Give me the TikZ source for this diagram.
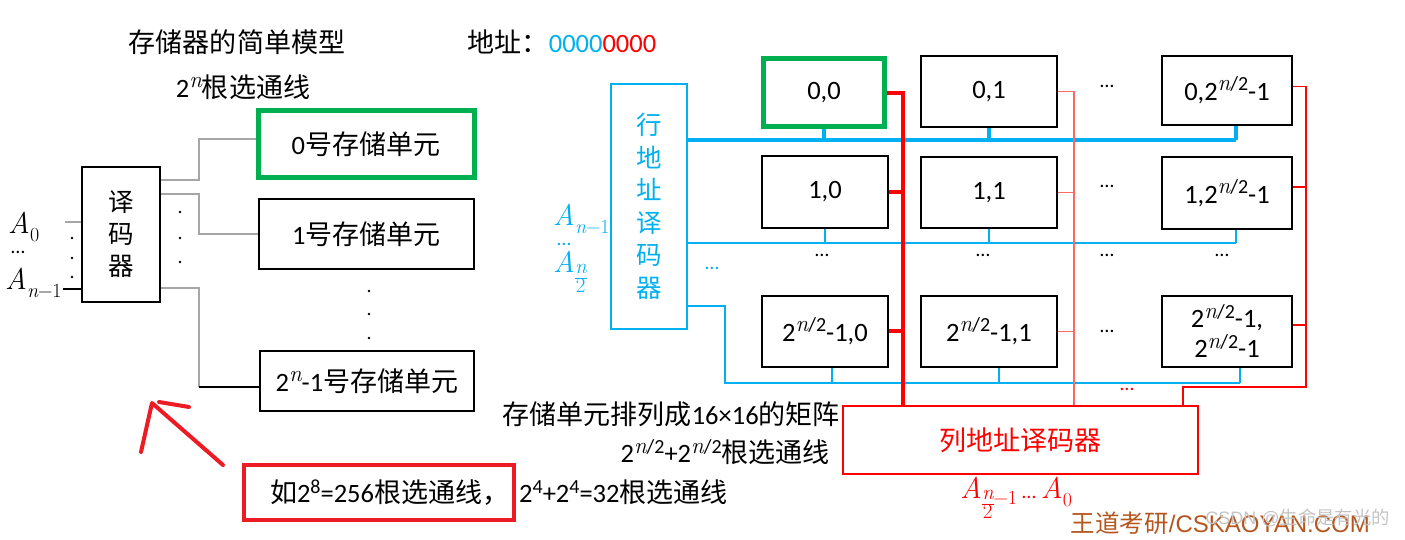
\documentclass[tikz,border=0pt]{standalone}
\usepackage{fontspec}
\setmainfont{Carlito}
\newfontfamily\cjk[Scale=1.02]{Noto Sans CJK SC}
\newfontfamily\arialf{Liberation Sans}
\newfontfamily\lmr{Latin Modern Roman}
\newcommand{\zh}[1]{{\cjk #1}}
\newcommand{\mi}[1]{{\lmr\itshape #1}}
\newcommand{\szmain}{\fontsize{26.5}{32}\selectfont}
\newcommand{\sztitle}{\fontsize{26.5}{32}\selectfont}
\newcommand{\szsmall}{\fontsize{20}{24}\selectfont}
\newcommand{\szmath}{\fontsize{30}{32}\selectfont}
\newcommand{\up}[1]{\raisebox{0.36em}{\fontsize{20}{20}\selectfont #1}}
\newcommand{\nn}{{\fontsize{23}{23}\selectfont\mi{n}}}
\newcommand{\nh}{\nn/2}
\newcommand{\dn}[1]{\raisebox{-0.28em}{\fontsize{20}{20}\selectfont #1}}
\newcommand{\fr}{\raisebox{-0.42em}{\fontsize{21}{21}\selectfont\renewcommand{\arraystretch}{0.75}\setlength{\tabcolsep}{0pt}\begin{tabular}{c}\mi{n}\\\hline{\lmr 2}\end{tabular}}}
\definecolor{cgreen}{HTML}{00B050}
\definecolor{cblue}{HTML}{00B0F0}
\definecolor{cred}{HTML}{FF0000}
\definecolor{cpink}{HTML}{FF6666}
\definecolor{cgray}{HTML}{A6A6A6}
\definecolor{cbox}{HTML}{ED1C24}
\definecolor{cbrown}{HTML}{B4561E}
\definecolor{cwm}{HTML}{C4C4C4}
\begin{document}
\begin{tikzpicture}[x=1pt,y=-1pt,
  txt/.style={inner sep=0pt,font=\szmain},
  mlab/.style={inner sep=0pt,font=\szmath},
  blk/.style={draw,line width=2pt,font=\szmain,align=center},
  greenbox/.style={draw=cgreen,line width=5pt,font=\szmain,align=center},
  cell/.style={draw,line width=2pt,minimum width=126pt,minimum height=71pt,font=\szmain,align=center,inner sep=1pt},
  graywire/.style={draw=cgray,line width=1.5pt},
  wire/.style={draw=black,line width=1.3pt},
  bluethick/.style={draw=cblue,line width=4pt},
  bluethin/.style={draw=cblue,line width=1.2pt},
  redthick/.style={draw=cred,line width=4pt},
  redthin/.style={draw=cred,line width=1.2pt},
  pinkwire/.style={draw=cpink,line width=1.2pt},
  redpen/.style={draw=cbox,line width=4pt,line cap=round,line join=round},
  celldots/.style={inner sep=0pt,font=\szsmall}]
\useasboundingbox (0,0) rectangle (1405,540);

% ---------- left: simple model ----------
\node[txt,font=\sztitle] (title) at (237,42) {\zh{存储器的简单模型}};
\node[txt] (nlines) at (243,87) {2\up{\nn}\zh{根选通线}};
\node[txt] (addr) at (562,42) {\zh{地址：}\textcolor{cblue}{0000}\textcolor{cred}{0000}};

\node[blk,minimum width=78pt,minimum height=135pt,font=\fontsize{25}{32}\selectfont] (dec) at (121,234.5) {\zh{译}\\\zh{码}\\\zh{器}};

\coordinate (inA) at (65,222);
\coordinate (inB) at (63,289);
\draw[graywire] (inA) -- (inA -| dec.west);
\draw[wire] (inB) -- (inB -| dec.west);
\node[mlab,anchor=west] (a0) at (8,227) {\mi{A}\dn{\lmr 0}};
\node[celldots,anchor=west] (adots) at (11,252) {…};
\node[mlab,anchor=west] (an1) at (5,283) {\mi{A}\dn{\mi{n}\lmr −1}};
\foreach \yy in {238,258,277} \fill (72,\yy) circle (1.4);

\node[greenbox,minimum width=216pt,minimum height=67pt] (m0) at (366,144.5) {0\zh{号存储单元}};
\node[blk,minimum width=215pt,minimum height=70pt] (m1) at (366.5,234) {1\zh{号存储单元}};
\node[blk,minimum width=214pt,minimum height=60pt] (mN) at (367,381) {2\up{\nn}-1\zh{号存储单元}};

\coordinate (o0a) at (199,180);
\coordinate (o0b) at (199,139);
\coordinate (o1a) at (199,194);
\coordinate (o1b) at (199,234);
\coordinate (oNa) at (199,288);
\coordinate (oNb) at (199,387);
\draw[graywire] (dec.east |- o0a) -- (o0a) -- (o0b) -- (o0b -| m0.west);
\draw[graywire] (dec.east |- o1a) -- (o1a) -- (o1b) -- (o1b -| m1.west);
\draw[graywire] (dec.east |- oNa) -- (oNa) -- (oNb);
\draw[wire] (oNb) -- (oNb -| mN.west);
\foreach \yy in {212,238,262} \fill (180,\yy) circle (1.4);
\foreach \yy in {291,314,338} \fill (369,\yy) circle (1.4);

% red hand-drawn arrow
\draw[redpen] (223,465) -- (152,403) -- (141,452);
\draw[redpen] (159,402) -- (189,407);

% example box
\node[draw=cbox,line width=4pt,minimum height=55pt,text width=262pt,inner xsep=4pt,align=left,font=\szmain,anchor=west] (ex) at (242,492.5)
  {\hspace*{22pt}\zh{如}2\up{8}=256\zh{根选通线，}};
\node[txt,anchor=west] (ex2) at (ex.east) {\hspace*{3pt}2\up{4}+2\up{4}=32\zh{根选通线}};

\node[txt,anchor=east] (mat) at (840,414) {\zh{存储单元排列成}16×16\zh{的矩阵}};
\node[txt,anchor=east] (sel2) at (830,452) {2\up{\nh}+2\up{\nh}\zh{根选通线}};

% ---------- right: matrix ----------
\node[draw=cblue,line width=2pt,minimum width=76pt,minimum height=244pt,align=center,text=cblue,font=\fontsize{25}{32.5}\selectfont] (rowdec) at (649,206.5)
  {\zh{行}\\\zh{地}\\\zh{址}\\\zh{译}\\\zh{码}\\\zh{器}};
\node[mlab,text=cblue,anchor=west] (rl1) at (553,219) {\mi{A}\dn{\mi{n}\lmr −1}};
\node[celldots,text=cblue,anchor=west] (rl2) at (557,244) {…};
\node[mlab,text=cblue,anchor=west] (rl3) at (553,274) {\mi{A}\fr};
\node[celldots,text=cblue] (rdotsl) at (712,268) {…};

\node[cell,draw=cgreen,line width=5pt,minimum width=121pt,minimum height=68pt] (c00) at (824,93) {0,0};
\node[cell,minimum width=136pt] (c01) at (989,91.5) {0,1};
\node[cell,minimum width=130pt,minimum height=69pt] (c03) at (1227,90.5) {0,2\up{\nh}-1};
\node[cell] (c10) at (825,192) {1,0};
\node[cell,minimum width=136pt] (c11) at (989,192.5) {1,1};
\node[cell,minimum width=130pt] (c13) at (1227,193) {1,2\up{\nh}-1};
\node[cell] (c20) at (825,331) {2\up{\nh}-1,0};
\node[cell,minimum width=136pt] (c21) at (989,331.5) {2\up{\nh}-1,1};
\node[cell,minimum width=130pt,font=\fontsize{26.5}{30}\selectfont] (c23) at (1227,331) {2\up{\nh}-1,\\2\up{\nh}-1};

\node[celldots] (d0) at (1107,86) {…};
\node[celldots] (d1) at (1107,186) {…};
\node[celldots] (d2) at (1107,331) {…};
\node[celldots] (e0) at (822,255) {…};
\node[celldots] (e1) at (983,255) {…};
\node[celldots] (e2) at (1107,255) {…};
\node[celldots] (e3) at (1222,255) {…};

\node[draw=cred,line width=2.5pt,minimum width=355pt,minimum height=68pt,text=cred,font=\szmain] (coldec) at (1020.5,440) {\zh{列地址译码器}};
\node[mlab,text=cred,anchor=west] (cl) at (960,500) {\mi{A}\fr\raisebox{-0.2em}{\fontsize{20}{20}\selectfont\lmr −1}\,{\szsmall …}\,\mi{A}\dn{\lmr 0}};
\node[celldots,text=cred] (rdd) at (1127,389) {…};

% blue buses
\coordinate (bt) at (1236,140);
\draw[bluethick] (rowdec.east |- bt) -- (bt);
\draw[bluethick] (c00.south) -- (c00.south |- bt);
\draw[bluethick] (c01.south) -- (c01.south |- bt);
\coordinate (s03) at ([xshift=9pt]c03.south);
\draw[bluethick] (s03) -- (bt);

\coordinate (bm) at (1236,243);
\draw[bluethin] (rowdec.east |- bm) -- (bm);
\draw[bluethin] (c10.south) -- (c10.south |- bm);
\draw[bluethin] (c11.south) -- (c11.south |- bm);
\coordinate (s13) at ([xshift=9pt]c13.south);
\draw[bluethin] (s13) -- (bm);

\coordinate (bl0) at (725,306);
\coordinate (bl) at (1240,383);
\draw[bluethin] (rowdec.east |- bl0) -- (bl0) |- (bl);
\coordinate (s20) at ([xshift=7pt]c20.south);
\coordinate (s21) at ([xshift=10pt]c21.south);
\coordinate (s23) at ([xshift=13pt]c23.south);
\draw[bluethin] (s20) -- (s20 |- bl);
\draw[bluethin] (s21) -- (s21 |- bl);
\draw[bluethin] (s23) -- (s23 |- bl);

% red buses
\coordinate (rt) at (903,93);
\draw[redthick] (c00.east |- rt) -- (rt) -- (rt |- coldec.north);
\draw[redthick] (c10.east) -- (c10.east -| rt);
\draw[redthick] (c20.east) -- (c20.east -| rt);

\coordinate (rm) at (1074,94);
\draw[pinkwire] (c01.east) -- (c01.east -| rm) -- (rm |- coldec.north);
\draw[pinkwire] (c11.east) -- (c11.east -| rm);
\draw[pinkwire] (c21.east) -- (c21.east -| rm);

\coordinate (rr) at (1306,387);
\coordinate (rc) at (1183,387);
\draw[redthin] ([yshift=4pt]c03.east) -| (rr) -- (rc) -- (rc |- coldec.north);
\draw[redthin] ([yshift=6pt]c13.east) -- ++(14,0);
\draw[redthin] ([yshift=6pt]c23.east) -- ++(14,0);

% footer
\node[txt,text=cbrown,font=\fontsize{24}{28}\selectfont,anchor=east] (brand) at (1370,523) {\zh{王道考研}\arialf /CSKAOYAN.COM};
\node[txt,text=cwm,font=\fontsize{18}{22}\selectfont,anchor=east] (wm) at (1390,518) {\arialf CSDN @\zh{生命是有光的}};
\end{tikzpicture}
\end{document}
